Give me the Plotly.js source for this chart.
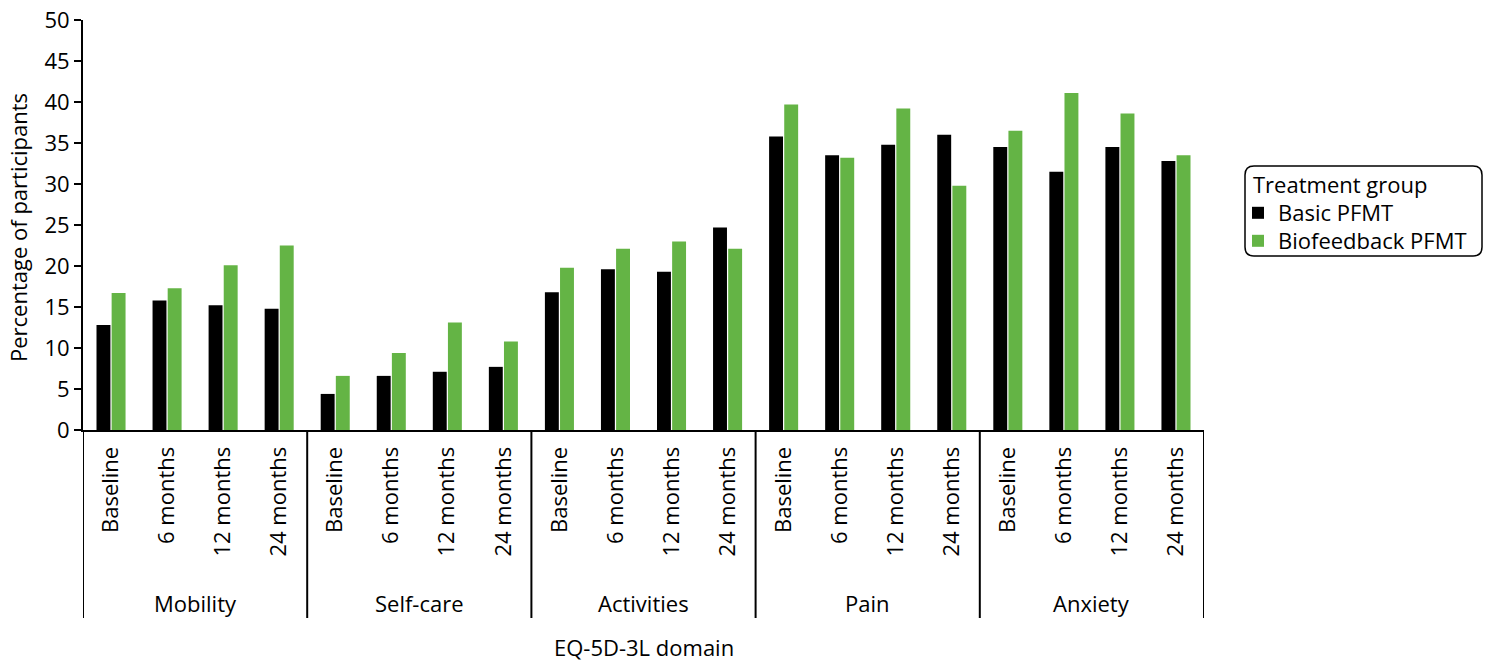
<!DOCTYPE html>
<html>
<head>
<meta charset="utf-8">
<script src="https://cdn.plot.ly/plotly-3.0.1.min.js"></script>
<style>html,body{margin:0;padding:0;background:#fff;}#chart{width:1488px;height:663px;}</style>
</head>
<body>
<div id="chart"></div>
<script>
const domains = ["Mobility", "Self-care", "Activities", "Pain", "Anxiety"];
const timepoints = ["Baseline", "6 months", "12 months", "24 months"];
const basicPFMT = [
  12.8, 15.8, 15.2, 14.8,
  4.4, 6.6, 7.1, 7.7,
  16.8, 19.6, 19.3, 24.7,
  35.8, 33.5, 34.8, 36.0,
  34.5, 31.5, 34.5, 32.8
];
const biofeedbackPFMT = [
  16.7, 17.3, 20.1, 22.5,
  6.6, 9.4, 13.1, 10.8,
  19.8, 22.1, 23.0, 22.1,
  39.7, 33.2, 39.2, 29.8,
  36.5, 41.1, 38.6, 33.5
];
const yTicks = [0, 5, 10, 15, 20, 25, 30, 35, 40, 45, 50];

const FONT = "Open Sans, Noto Sans, DejaVu Sans, sans-serif";
const FS = 22;
const cats = [];
const tickLabels = [];
domains.forEach(d => timepoints.forEach(t => { cats.push(d + " | " + t); tickLabels.push(t); }));

const traces = [
  {type: "bar", name: "Basic PFMT", x: cats, y: basicPFMT, marker: {color: "#000000"}, hoverinfo: "x+y", legend: "legend"},
  {type: "bar", name: "Biofeedback PFMT", x: cats, y: biofeedbackPFMT, marker: {color: "#64b445"}, hoverinfo: "x+y", legend: "legend2"}
];

const nT = timepoints.length;
const W = 1121, H = 410;
const shapes = [];
for (let i = 0; i <= domains.length; i++) {
  shapes.push({type: "line", xref: "x", yref: "paper", x0: i * nT - 0.5, x1: i * nT - 0.5, y0: 0, y1: (430 - 618) / H,
    line: {color: "#000", width: 2}});
}
// rounded legend box (paper coords)
const lx0 = (1245 - 83) / W, lx1 = (1482 - 83) / W, ly0 = (430 - 256) / H, ly1 = (430 - 166) / H;
const rx = 9 / W, ry = 9 / H;
const path = `M ${lx0 + rx} ${ly1} L ${lx1 - rx} ${ly1} Q ${lx1} ${ly1} ${lx1} ${ly1 - ry} L ${lx1} ${ly0 + ry} Q ${lx1} ${ly0} ${lx1 - rx} ${ly0} L ${lx0 + rx} ${ly0} Q ${lx0} ${ly0} ${lx0} ${ly0 + ry} L ${lx0} ${ly1 - ry} Q ${lx0} ${ly1} ${lx0 + rx} ${ly1} Z`;
shapes.push({type: "path", xref: "paper", yref: "paper", path: path, line: {color: "#000", width: 1.5}});

const annotations = domains.map((d, i) => ({
  text: d, xref: "x", yref: "paper", x: i * nT + (nT - 1) / 2, y: (430 - 603) / H, yanchor: "middle", xanchor: "center",
  showarrow: false, font: {family: FONT, size: FS, color: "#000"}
}));
annotations.push({text: "EQ-5D-3L domain", xref: "paper", yref: "paper", x: 0.5, y: (430 - 647) / H, xanchor: "center", yanchor: "middle",
  showarrow: false, font: {family: FONT, size: FS, color: "#000"}});
annotations.push({text: "Percentage of participants", xref: "paper", yref: "paper", x: (18 - 83) / W, y: (430 - 228) / H,
  xanchor: "center", yanchor: "middle", textangle: -90, showarrow: false, font: {family: FONT, size: FS, color: "#000"}});
annotations.push({text: "Treatment group", xref: "paper", yref: "paper", x: (1251 - 83) / W, y: (430 - 184) / H,
  xanchor: "left", yanchor: "middle", showarrow: false, font: {family: FONT, size: FS, color: "#000"}});

const legendBase = {xanchor: "left", yanchor: "middle", bgcolor: "rgba(0,0,0,0)", borderwidth: 0,
  font: {family: FONT, size: FS, color: "#000"}};

const layout = {
  width: 1488, height: 663,
  margin: {l: 83, r: 284, t: 20, b: 233, pad: 0},
  paper_bgcolor: "#fff", plot_bgcolor: "#fff",
  font: {family: FONT, size: FS, color: "#000"},
  barmode: "group", bargap: 0.46, bargroupgap: 0.08,
  showlegend: true,
  legend: Object.assign({x: (1238 - 83) / W, y: (430 - 213) / H}, legendBase),
  legend2: Object.assign({x: (1238 - 83) / W, y: (430 - 241) / H}, legendBase),
  xaxis: {type: "category", categoryorder: "array", categoryarray: cats, tickvals: cats, ticktext: tickLabels,
    tickangle: -90, ticks: "", ticklabelstandoff: 6, showline: true, linecolor: "#000", linewidth: 2, showgrid: false, zeroline: false,
    range: [-0.5, cats.length - 0.5], tickfont: {family: FONT, size: FS, color: "#000"}, fixedrange: true},
  yaxis: {range: [0, 50], tickvals: yTicks, ticktext: yTicks.map(String), ticks: "outside", ticklen: 7, tickwidth: 1.5,
    tickcolor: "#000", showline: true, linecolor: "#000", linewidth: 2, showgrid: false, zeroline: false,
    tickfont: {family: FONT, size: FS, color: "#000"}, fixedrange: true},
  shapes: shapes,
  annotations: annotations
};

Plotly.newPlot("chart", traces, layout, {displayModeBar: false, staticPlot: true});
</script>
</body>
</html>
